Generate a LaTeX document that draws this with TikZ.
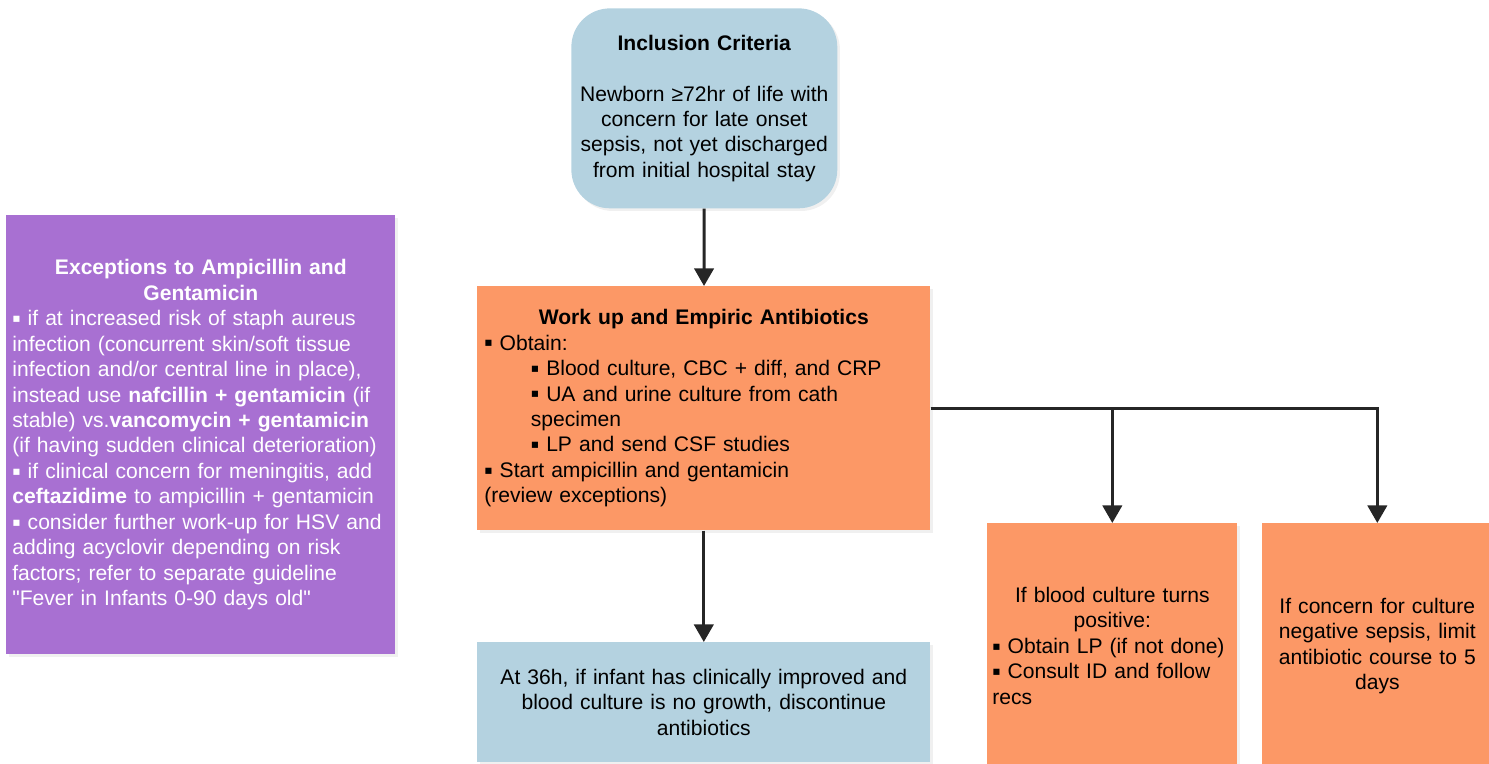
\documentclass[tikz,border=0pt]{standalone}
\usepackage{fontspec}
\setmainfont{Liberation Sans}
\newfontfamily\symfont{DejaVu Sans}
\usetikzlibrary{arrows.meta,positioning,shadows}
\definecolor{critblue}{HTML}{B4D2E0}
\definecolor{steporange}{HTML}{FC9866}
\definecolor{exceptpurple}{HTML}{A870D2}
\definecolor{arrowgray}{HTML}{262626}
\newcommand{\sqb}{\raisebox{1.8pt}{\symfont\fontsize{7}{7}\selectfont ▪}}
\newcommand{\subind}{\hspace*{26.5pt}}
\begin{document}
\begin{tikzpicture}[x=0.02cm,y=-0.02cm,>={Triangle[width=11pt,length=10pt]},
    box/.style={anchor=north west,inner sep=0pt,font=\fontsize{12}{14.5}\selectfont,
        drop shadow={opacity=0.12,shadow xshift=1.5pt,shadow yshift=-1.5pt}},
    flow/.style={->,line width=1.7pt,draw=arrowgray}]
    \useasboundingbox (0,0) rectangle (1489,764);
    % boxes
    \node[box,fill=critblue,rounded corners=22pt,minimum width=5.32cm,minimum height=4cm,
        text width=5cm,align=center] (crit) at (571,8)
        {\textbf{Inclusion Criteria}\\[14.5pt]Newborn ≥72hr of life with\\concern for late onset\\sepsis, not yet discharged\\from initial hospital stay};
    \node[box,fill=steporange,minimum width=9.06cm,minimum height=4.88cm,
        text width=8.78cm,align=left] (work) at (477,286)
        {{\centering\textbf{Work up and Empiric Antibiotics}\par}
        \sqb{} Obtain:\\
        \subind\sqb{} Blood culture, CBC + diff, and CRP\\
        \subind\sqb{} UA and urine culture from cath\\
        \subind specimen\\
        \subind\sqb{} LP and send CSF studies\\
        \sqb{} Start ampicillin and gentamicin\\
        (review exceptions)};
    \node[box,fill=critblue,minimum width=9.06cm,minimum height=2.4cm,
        text width=8.78cm,align=center] (stop) at (477,642)
        {At 36h, if infant has clinically improved and\\blood culture is no growth, discontinue\\antibiotics};
    \node[box,fill=steporange,minimum width=5cm,minimum height=4.9cm,
        text width=4.8cm,align=left] (pos) at (987,523)
        {{\centering If blood culture turns\\positive:\par}
        \sqb{} Obtain LP (if not done)\\
        \sqb{} Consult ID and follow\\
        recs};
    \node[box,fill=steporange,minimum width=4.6cm,minimum height=4.9cm,
        text width=4.4cm,align=center] (neg) at (1262,523)
        {If concern for culture\\negative sepsis, limit\\antibiotic course to 5\\days};
    \node[box,fill=exceptpurple,text=white,minimum width=7.78cm,minimum height=8.78cm,
        text width=7.54cm,align=left] (except) at (6,215)
        {{\centering\textbf{Exceptions to Ampicillin and}\\\textbf{Gentamicin}\par}
        \sqb{} if at increased risk of staph aureus\\
        infection (concurrent skin/soft tissue\\
        infection and/or central line in place),\\
        instead use \textbf{nafcillin + gentamicin} (if\\
        stable) vs.\textbf{vancomycin + gentamicin}\\
        (if having sudden clinical deterioration)\\
        \sqb{} if clinical concern for meningitis, add\\
        \textbf{ceftazidime} to ampicillin + gentamicin\\
        \sqb{} consider further work-up for HSV and\\
        adding acyclovir depending on risk\\
        factors; refer to separate guideline\\
        \textquotedbl Fever in Infants 0-90 days old\textquotedbl};
    % connectors
    \draw[flow](crit)--(work);
    \draw[flow](work)--(stop);
    \draw[flow](work.east)-|(pos.north);
    \draw[flow](work.east)-|(neg.north);
\end{tikzpicture}
\end{document}
